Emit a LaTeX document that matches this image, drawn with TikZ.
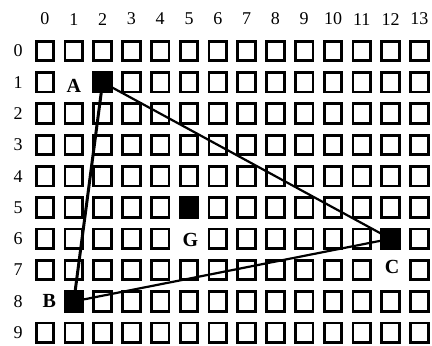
\documentclass[tikz,border=0pt]{standalone}
\usepackage{fontspec}
\setmainfont{Liberation Serif}
\usepackage{tikz}

\tikzset{
  gridbox/.style={draw, line width=2.8pt, minimum width=17.5pt, minimum height=19.5pt, inner sep=0pt},
  markbox/.style={gridbox, fill=black},
  numlabel/.style={font=\fontsize{18}{20}\selectfont},
  ptlabel/.style={font=\fontsize{20}{22}\selectfont\bfseries}
}

\begin{document}
\begin{tikzpicture}[x=28.8pt, y=-31.3pt]
            \useasboundingbox (-1.5625,-1.629) rectangle (13.4375,9.425);
            % Axis numbers
            \foreach \c in {0,...,13}
                \node[numlabel] (col-\c) at (\c,-1.02) {\c};
            \foreach \r in {0,...,9}
                \node[numlabel] (row-\r) at (-0.93,\r) {\r};

            % Empty cells (label and point cells left out)
            \foreach \c in {0,...,13} {
                \foreach \r in {0,...,9} {
                    \pgfmathtruncatemacro{\skipcell}{
                        (\c==1 && \r==1) || (\c==0 && \r==8) || (\c==12 && \r==7) || (\c==5 && \r==6) ||
                        (\c==2 && \r==1) || (\c==1 && \r==8) || (\c==12 && \r==6) || (\c==5 && \r==5)}
                    \ifnum\skipcell=0
                        \node[gridbox] (cell-\c-\r) at (\c,\r) {};
                    \fi
                }
            }

            % Points
            \node[markbox] (A) at (2,1) {};
            \node[markbox] (B) at (1,8) {};
            \node[markbox] (C) at (12,6) {};
            \node[markbox] (G) at (5,5) {};

            \node[ptlabel] (A-label) at (1,1.1) {A};
            \node[ptlabel] (B-label) at (0.15,8) {B};
            \node[ptlabel] (C-label) at (12.05,6.9) {C};
            \node[ptlabel] (G-label) at (5.05,6.05) {G};

            % Triangle
            \draw[line width=3pt] (A.center) -- (B.center);
            \draw[line width=2.2pt] (B.center) -- (C.center);
            \draw[line width=2.2pt] (C.center) -- (A.center);
        \end{tikzpicture}
\end{document}
